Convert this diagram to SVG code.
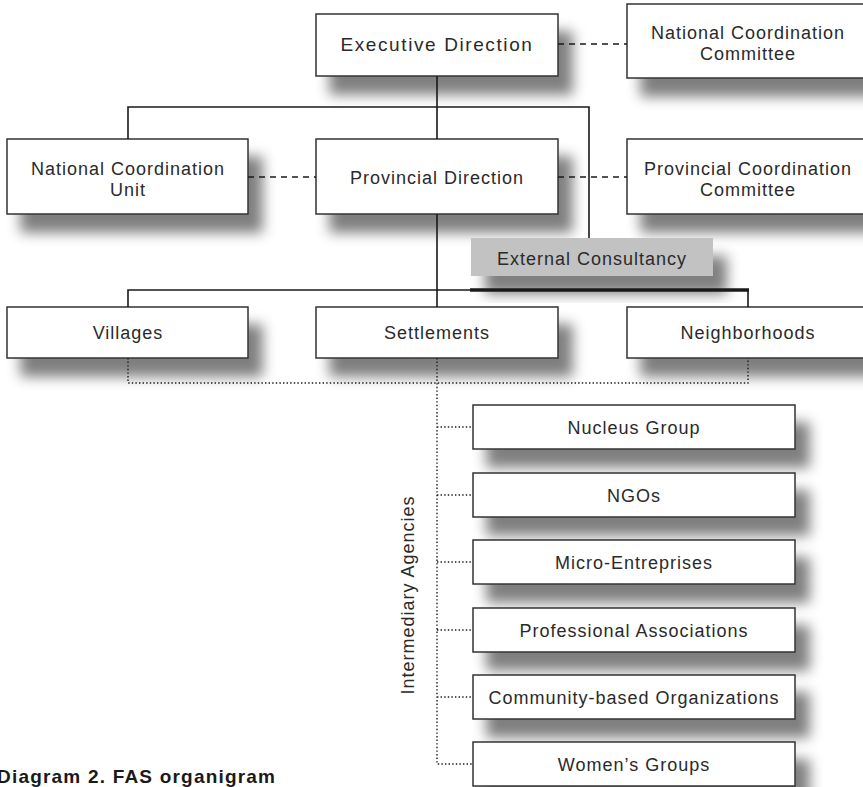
<svg xmlns="http://www.w3.org/2000/svg" width="863" height="787" viewBox="0 0 863 787">
<defs>
<filter id="sh" x="-20%" y="-30%" width="150%" height="200%">
<feGaussianBlur in="SourceAlpha" stdDeviation="6.5"/>
<feOffset dx="14" dy="18" result="b"/>
<feFlood flood-color="#000" flood-opacity="0.5"/>
<feComposite in2="b" operator="in"/>
<feMerge><feMergeNode/><feMergeNode in="SourceGraphic"/></feMerge>
</filter>
</defs>
<style>
.box{fill:#fff;stroke:#333;stroke-width:1.5;filter:url(#sh)}
.gbox{fill:#c2c2c2;stroke:none;filter:url(#sh)}
.t{font-family:"Liberation Sans",Arial,sans-serif;font-size:18px;letter-spacing:1px;fill:#2a2a2a;text-anchor:middle}
.big{font-size:19px;letter-spacing:1.6px}
.ln{stroke:#1a1a1a;stroke-width:1.6;fill:none}
.thick{stroke:#1a1a1a;stroke-width:3.5;fill:none}
.dash{stroke:#1a1a1a;stroke-width:1.4;stroke-dasharray:6 5;fill:none}
.dot{stroke:#1a1a1a;stroke-width:1.4;stroke-dasharray:1.4 2.2;fill:none}
.cap{font-family:"Liberation Sans",Arial,sans-serif;font-size:19px;font-weight:bold;fill:#1a1a1a}
</style>
<rect width="863" height="787" fill="#fff"/>

<g id="exec"><rect class="box" x="316" y="14" width="242" height="62"/><text class="t big" x="437" y="51">Executive Direction</text></g>
<g id="ncc"><rect class="box" x="627" y="4" width="242" height="74"/><text class="t" x="748" y="39">National Coordination</text><text class="t" x="748" y="60">Committee</text></g>
<g id="ncu"><rect class="box" x="7" y="139" width="241" height="75"/><text class="t" x="128" y="175">National Coordination</text><text class="t" x="128" y="196">Unit</text></g>
<g id="pd"><rect class="box" x="316" y="139" width="242" height="75"/><text class="t" x="437" y="184">Provincial Direction</text></g>
<g id="pcc"><rect class="box" x="627" y="139" width="242" height="75"/><text class="t" x="748" y="175">Provincial Coordination</text><text class="t" x="748" y="196">Committee</text></g>
<g id="ec"><rect class="gbox" x="471" y="238" width="242" height="38"/><text class="t" x="592" y="265">External Consultancy</text></g>
<g id="villages"><rect class="box" x="7" y="307" width="241" height="51"/><text class="t" x="128" y="339">Villages</text></g>
<g id="settlements"><rect class="box" x="316" y="307" width="242" height="51"/><text class="t" x="437" y="339">Settlements</text></g>
<g id="neighborhoods"><rect class="box" x="627" y="307" width="242" height="51"/><text class="t" x="748" y="339">Neighborhoods</text></g>
<g id="nucleus"><rect class="box" x="473" y="405" width="322" height="44"/><text class="t" x="634" y="434">Nucleus Group</text></g>
<g id="ngos"><rect class="box" x="473" y="473" width="322" height="44"/><text class="t" x="634" y="502">NGOs</text></g>
<g id="micro"><rect class="box" x="473" y="540" width="322" height="44"/><text class="t" x="634" y="569">Micro-Entreprises</text></g>
<g id="prof"><rect class="box" x="473" y="608" width="322" height="44"/><text class="t" x="634" y="637">Professional Associations</text></g>
<g id="cbo"><rect class="box" x="473" y="675" width="322" height="44"/><text class="t" x="634" y="704">Community-based Organizations</text></g>
<g id="women"><rect class="box" x="473" y="742" width="322" height="44"/><text class="t" x="634" y="771">Women’s Groups</text></g>

<g id="connectors">
<path class="ln" d="M437 76V139M128 139V107H589V238M437 214V307M128 307V290H470M748 307V290"/>
<path class="thick" d="M470 290H749"/>
<path class="dash" d="M558 44H627M248 177H316M558 177H627"/>
<path class="dot" d="M128 358V383H748V358M437 358V764H473M437 427H473M437 495H473M437 562H473M437 630H473M437 697H473"/>
</g>

<text class="t" transform="translate(414 595) rotate(-90)">Intermediary Agencies</text>
<text class="cap" x="-3" y="783" textLength="278" lengthAdjust="spacing">Diagram 2.  FAS organigram</text>
</svg>
